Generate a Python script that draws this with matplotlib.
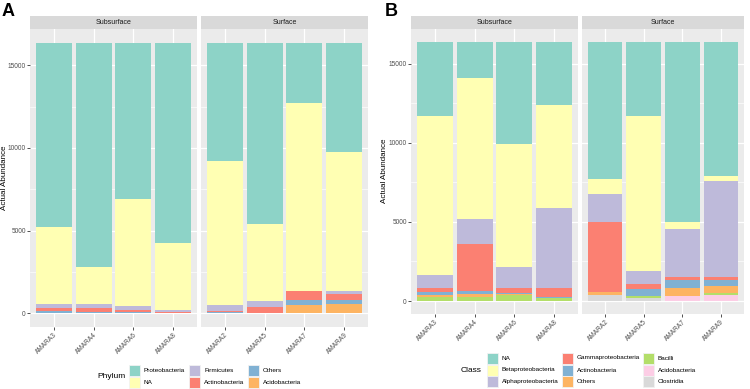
import matplotlib
matplotlib.use("Agg")
import matplotlib.pyplot as plt
from matplotlib.patches import Rectangle
import numpy as np

plt.rcParams['font.family'] = ['Liberation Sans', 'DejaVu Sans']

W, H = 750, 389

facets = ["Subsurface", "Surface"]
samples_sub = ["AMARA3", "AMARA4", "AMARA6", "AMARA8"]
samples_surf = ["AMARA2", "AMARA5", "AMARA7", "AMARA9"]

# ---- Panel A: Phylum (values for samples_sub + samples_surf) ----
phylum_levels = ["Proteobacteria", "NA", "Firmicutes", "Actinobacteria", "Others", "Acidobacteria"]
phylum_colors = ["#8DD3C7", "#FFFFB3", "#BEBADA", "#FB8072", "#80B1D3", "#FDB462"]
proteobacteria = [11170, 13570, 9455, 12135, 7170, 10970, 3670, 6610]
phylum_na = [4640, 2235, 6445, 4010, 8700, 4655, 11320, 8430]
firmicutes = [260, 220, 290, 125, 340, 340, 10, 140]
actinobacteria = [130, 245, 100, 60, 60, 400, 540, 405]
phylum_others = [170, 100, 80, 40, 100, 5, 340, 240]
acidobacteria = [0, 0, 0, 0, 0, 0, 490, 545]

# ---- Panel B: Class ----
class_levels = ["NA", "Betaproteobacteria", "Alphaproteobacteria", "Gammaproteobacteria",
                "Actinobacteria", "Others", "Bacilli", "Acidobacteria", "Clostridia"]
class_colors = ["#8DD3C7", "#FFFFB3", "#BEBADA", "#FB8072", "#80B1D3", "#FDB462",
                "#B3DE69", "#FCCDE5", "#D9D9D9"]
class_na = [4653, 2280, 6460, 4000, 8690, 4680, 11385, 8466]
betaproteobacteria = [10077, 8890, 7760, 6520, 890, 9799, 450, 290]
alphaproteobacteria = [810, 1600, 1330, 5010, 1810, 800, 3030, 6100]
gammaproteobacteria = [250, 2970, 300, 610, 4400, 316, 190, 214]
class_actinobacteria = [170, 190, 80, 20, 30, 460, 485, 355]
class_others = [150, 170, 40, 30, 150, 0, 480, 420]
bacilli = [250, 250, 380, 170, 20, 145, 30, 145]
class_acidobacteria = [0, 0, 0, 0, 0, 0, 320, 380]
clostridia = [10, 20, 20, 10, 380, 170, 0, 0]

y_ticks = [0, 5000, 10000, 15000]
y_minor = [2500, 7500, 12500]

phylum_series = [proteobacteria, phylum_na, firmicutes, actinobacteria, phylum_others, acidobacteria]
class_series = [class_na, betaproteobacteria, alphaproteobacteria, gammaproteobacteria,
                class_actinobacteria, class_others, bacilli, class_acidobacteria, clostridia]

fig = plt.figure(figsize=(W / 100, H / 100), dpi=100)
fig.patch.set_facecolor("white")


def px_axes(x0, y0, x1, y1):
    return fig.add_axes([x0 / W, 1 - y1 / H, (x1 - x0) / W, (y1 - y0) / H])


def draw_panel(facet_x, top_y, bot_y, series, colors):
    samples = [samples_sub, samples_surf]
    totals = np.sum(np.array(series, dtype=float), axis=0)
    ymax = totals.max()
    for fi, (x0, x1) in enumerate(facet_x):
        ax = px_axes(x0, top_y, x1, bot_y)
        ax.set_facecolor("#EBEBEB")
        pos = np.arange(1, 5)
        bottom = np.zeros(4)
        for s, c in zip(reversed(series), reversed(colors)):
            vals = np.array(s[fi * 4:fi * 4 + 4], dtype=float)
            ax.bar(pos, vals, 0.9, bottom=bottom, color=c, linewidth=0, zorder=3)
            bottom += vals
        ax.set_xlim(0.4, 4.6)
        ax.set_ylim(-0.05 * ymax, 1.05 * ymax)
        ax.set_yticks(y_ticks)
        ax.set_yticks(y_minor, minor=True)
        ax.set_xticks(pos)
        ax.set_xticklabels(samples[fi], rotation=45, ha="right", rotation_mode="anchor",
                           fontsize=4.7, color="#4D4D4D")
        ax.grid(True, which="major", color="white", linewidth=0.9, zorder=0)
        ax.grid(True, which="minor", axis="y", color="white", linewidth=0.45, zorder=0)
        ax.set_axisbelow(True)
        for sp in ax.spines.values():
            sp.set_visible(False)
        ax.tick_params(axis="x", length=2.0, width=0.6, color="#333333", pad=1.5)
        ax.tick_params(axis="y", which="minor", length=0)
        if fi == 0:
            ax.set_yticklabels([str(v) for v in y_ticks], fontsize=4.7, color="#4D4D4D")
            ax.tick_params(axis="y", which="major", length=2.0, width=0.6, color="#333333", pad=1.0)
        else:
            ax.tick_params(axis="y", which="major", length=0, labelleft=False)
        sa = px_axes(x0, 16, x1, top_y)
        sa.set_facecolor("#D9D9D9")
        sa.set_xticks([])
        sa.set_yticks([])
        for sp in sa.spines.values():
            sp.set_visible(False)
        sa.text(0.5, 0.5, facets[fi], ha="center", va="center", fontsize=5.0,
                color="#1A1A1A", transform=sa.transAxes)


def draw_legend(title, title_x, title_y, levels, colors, col_x, row_y, label_dx, key=11):
    fig.text(title_x / W, 1 - title_y / H, title, ha="left", va="center", fontsize=6.0,
             color="black")
    nrow = len(row_y)
    for i, (lab, c) in enumerate(zip(levels, colors)):
        ci, ri = divmod(i, nrow)
        x = col_x[ci]
        yc = row_y[ri]
        fig.patches.append(Rectangle((x / W, 1 - (yc + key / 2) / H), key / W, key / H,
                                     transform=fig.transFigure, facecolor=c,
                                     edgecolor="#F2F2F2", linewidth=0.6))
        fig.text((x + label_dx) / W, 1 - yc / H, lab, ha="left", va="center",
                 fontsize=4.6, color="black")


# Panel A
draw_panel([(30, 197), (201, 368)], 29, 327, phylum_series, phylum_colors)
fig.text(4.5 / W, 1 - 178 / H, "Actual Abundance", rotation=90, ha="center", va="center",
         fontsize=5.8, color="black")
fig.text(2 / W, 1 - 11 / H, "A", fontsize=13, fontweight="bold", ha="left", va="center")
draw_legend("Phylum", 97, 377, phylum_levels, phylum_colors,
            [129, 189, 248], [370.5, 382], 15)

# Panel B
draw_panel([(411, 578), (582, 744)], 29, 314, class_series, class_colors)
fig.text(384 / W, 1 - 171 / H, "Actual Abundance", rotation=90, ha="center", va="center",
         fontsize=5.8, color="black")
fig.text(385 / W, 1 - 11 / H, "B", fontsize=13, fontweight="bold", ha="left", va="center")
draw_legend("Class", 461, 370, class_levels, class_colors,
            [487, 562, 643], [358, 370, 381.5], 15)

fig.savefig("out.png", dpi=100)
